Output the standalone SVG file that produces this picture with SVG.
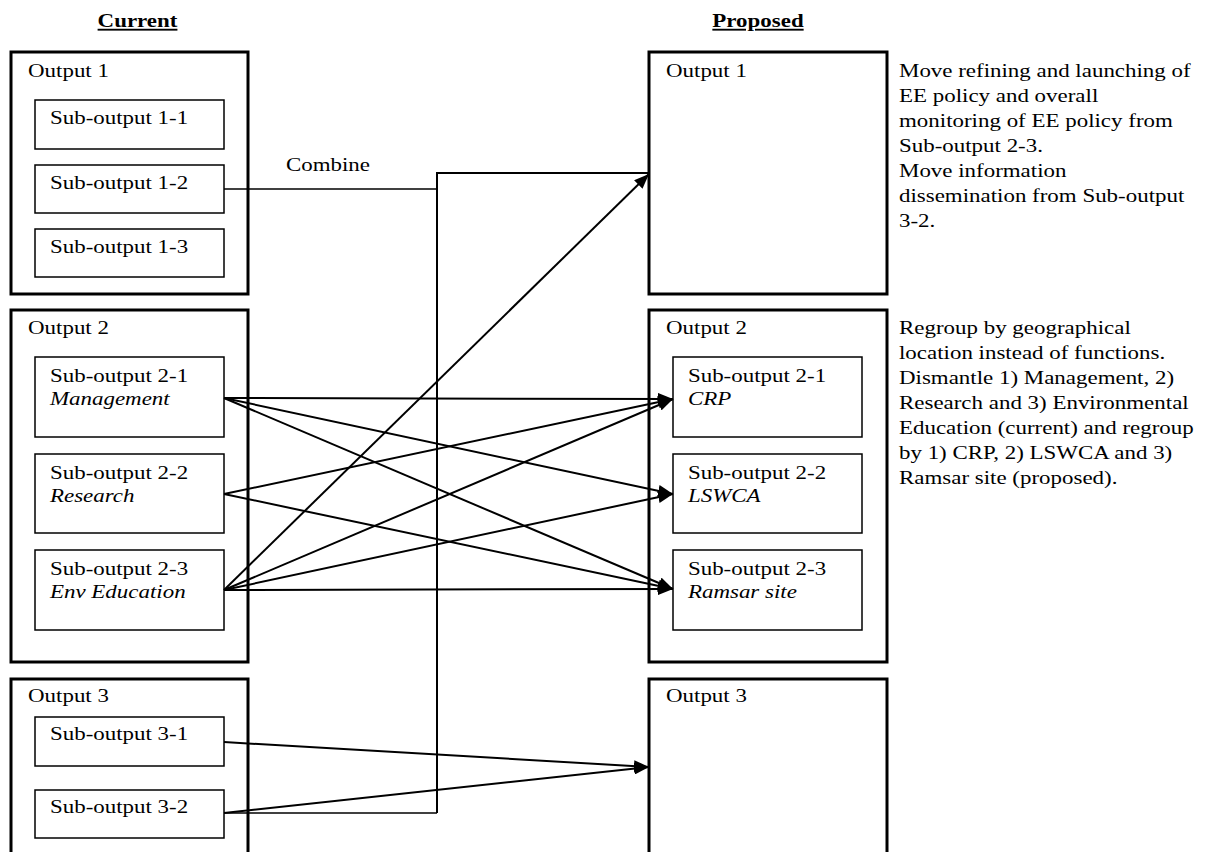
<svg xmlns="http://www.w3.org/2000/svg" width="1212" height="852" viewBox="0 0 1212 852">
<style>
  .bg { fill: #ffffff; }
  .outer { fill: none; stroke: #000; stroke-width: 3; }
  .inner { fill: #ffffff; stroke: #000; stroke-width: 1.5; }
  text { font-family: "Liberation Serif", "Times New Roman", serif; font-size: 18.5px; fill: #000; }
  .h { font-weight: bold; text-decoration: underline; text-anchor: middle; }
  .i { font-style: italic; }
  .c { fill: none; stroke: #000; stroke-width: 2; }
  .thin { fill: none; stroke: #000; stroke-width: 1.5; }
</style>
<defs>
  <marker id="arr" markerUnits="userSpaceOnUse" markerWidth="16" markerHeight="12" refX="15" refY="6" orient="auto">
    <path d="M0,0 L15,6 L0,12 Z" fill="#000"/>
  </marker>
</defs>
<rect class="bg" x="0" y="0" width="1212" height="852"/>

<g id="headings">
  <text class="h" transform="scale(1.24 1)" x="110.9" y="27">Current</text>
  <text class="h" transform="scale(1.24 1)" x="611.3" y="27">Proposed</text>
</g>

<!-- Current side -->
<g id="cur-output1">
  <rect class="outer" x="11" y="52" width="237" height="242"/>
  <text transform="scale(1.24 1)" x="22.6" y="77">Output 1</text>
</g>
<g id="cur-sub1-1">
  <rect class="inner" x="35" y="100" width="189" height="49"/>
  <text transform="scale(1.24 1)" x="40.3" y="124">Sub-output 1-1</text>
</g>
<g id="cur-sub1-2">
  <rect class="inner" x="35" y="165" width="189" height="48"/>
  <text transform="scale(1.24 1)" x="40.3" y="189">Sub-output 1-2</text>
</g>
<g id="cur-sub1-3">
  <rect class="inner" x="35" y="229" width="189" height="48"/>
  <text transform="scale(1.24 1)" x="40.3" y="253">Sub-output 1-3</text>
</g>

<g id="cur-output2">
  <rect class="outer" x="11" y="310" width="237" height="352"/>
  <text transform="scale(1.24 1)" x="22.6" y="334">Output 2</text>
</g>
<g id="cur-sub2-1">
  <rect class="inner" x="35" y="357" width="189" height="80"/>
  <text transform="scale(1.24 1)" x="40.3" y="382">Sub-output 2-1</text>
  <text class="i" transform="scale(1.24 1)" x="40.3" y="405">Management</text>
</g>
<g id="cur-sub2-2">
  <rect class="inner" x="35" y="454" width="189" height="79"/>
  <text transform="scale(1.24 1)" x="40.3" y="479">Sub-output 2-2</text>
  <text class="i" transform="scale(1.24 1)" x="40.3" y="502">Research</text>
</g>
<g id="cur-sub2-3">
  <rect class="inner" x="35" y="550" width="189" height="80"/>
  <text transform="scale(1.24 1)" x="40.3" y="575">Sub-output 2-3</text>
  <text class="i" transform="scale(1.24 1)" x="40.3" y="598">Env Education</text>
</g>

<g id="cur-output3">
  <rect class="outer" x="11" y="679" width="237" height="200"/>
  <text transform="scale(1.24 1)" x="22.6" y="702">Output 3</text>
</g>
<g id="cur-sub3-1">
  <rect class="inner" x="35" y="717" width="189" height="49"/>
  <text transform="scale(1.24 1)" x="40.3" y="740">Sub-output 3-1</text>
</g>
<g id="cur-sub3-2">
  <rect class="inner" x="35" y="790" width="189" height="48"/>
  <text transform="scale(1.24 1)" x="40.3" y="813">Sub-output 3-2</text>
</g>

<!-- Proposed side -->
<g id="prop-output1">
  <rect class="outer" x="649" y="52" width="238" height="242"/>
  <text transform="scale(1.24 1)" x="537.1" y="77">Output 1</text>
</g>
<g id="prop-output2">
  <rect class="outer" x="649" y="310" width="238" height="352"/>
  <text transform="scale(1.24 1)" x="537.1" y="334">Output 2</text>
</g>
<g id="prop-sub2-1">
  <rect class="inner" x="673" y="357" width="189" height="80"/>
  <text transform="scale(1.24 1)" x="554.8" y="382">Sub-output 2-1</text>
  <text class="i" transform="scale(1.24 1)" x="554.8" y="405">CRP</text>
</g>
<g id="prop-sub2-2">
  <rect class="inner" x="673" y="454" width="189" height="79"/>
  <text transform="scale(1.24 1)" x="554.8" y="479">Sub-output 2-2</text>
  <text class="i" transform="scale(1.24 1)" x="554.8" y="502">LSWCA</text>
</g>
<g id="prop-sub2-3">
  <rect class="inner" x="673" y="550" width="189" height="80"/>
  <text transform="scale(1.24 1)" x="554.8" y="575">Sub-output 2-3</text>
  <text class="i" transform="scale(1.24 1)" x="554.8" y="598">Ramsar site</text>
</g>
<g id="prop-output3">
  <rect class="outer" x="649" y="679" width="238" height="200"/>
  <text transform="scale(1.24 1)" x="537.1" y="702">Output 3</text>
</g>

<!-- Notes -->
<g id="note1">
  <text transform="scale(1.24 1)" x="725" y="77">Move refining and launching of</text>
  <text transform="scale(1.24 1)" x="725" y="102">EE policy and overall</text>
  <text transform="scale(1.24 1)" x="725" y="127">monitoring of EE policy from</text>
  <text transform="scale(1.24 1)" x="725" y="152">Sub-output 2-3.</text>
  <text transform="scale(1.24 1)" x="725" y="177">Move information</text>
  <text transform="scale(1.24 1)" x="725" y="202">dissemination from Sub-output</text>
  <text transform="scale(1.24 1)" x="725" y="227">3-2.</text>
</g>
<g id="note2">
  <text transform="scale(1.24 1)" x="725" y="334">Regroup by geographical</text>
  <text transform="scale(1.24 1)" x="725" y="359">location instead of functions.</text>
  <text transform="scale(1.24 1)" x="725" y="384">Dismantle 1) Management, 2)</text>
  <text transform="scale(1.24 1)" x="725" y="409">Research and 3) Environmental</text>
  <text transform="scale(1.24 1)" x="725" y="434">Education (current) and regroup</text>
  <text transform="scale(1.24 1)" x="725" y="459">by 1) CRP, 2) LSWCA and 3)</text>
  <text transform="scale(1.24 1)" x="725" y="484">Ramsar site (proposed).</text>
</g>

<!-- Connectors -->
<g id="connectors">
  <polyline class="thin" points="224,189 437,189"/>
  <polyline class="thin" points="224,813 437,813"/>
  <polyline class="c" points="437,813 437,173 649,173"/>
  <text transform="scale(1.24 1)" x="230.6" y="171">Combine</text>
  <line class="c" x1="224" y1="590" x2="649" y2="174" marker-end="url(#arr)"/>

  <line class="c" x1="224" y1="398" x2="673" y2="399" marker-end="url(#arr)"/>
  <line class="c" x1="224" y1="398" x2="673" y2="494" marker-end="url(#arr)"/>
  <line class="c" x1="224" y1="398" x2="673" y2="589" marker-end="url(#arr)"/>

  <line class="c" x1="224" y1="494" x2="673" y2="399" marker-end="url(#arr)"/>
  <line class="c" x1="224" y1="494" x2="673" y2="589" marker-end="url(#arr)"/>

  <line class="c" x1="224" y1="590" x2="673" y2="399" marker-end="url(#arr)"/>
  <line class="c" x1="224" y1="590" x2="673" y2="494" marker-end="url(#arr)"/>
  <line class="c" x1="224" y1="590" x2="673" y2="589" marker-end="url(#arr)"/>

  <line class="c" x1="224" y1="742" x2="649" y2="767" marker-end="url(#arr)"/>
  <line class="c" x1="224" y1="813" x2="649" y2="767" marker-end="url(#arr)"/>
</g>
</svg>
